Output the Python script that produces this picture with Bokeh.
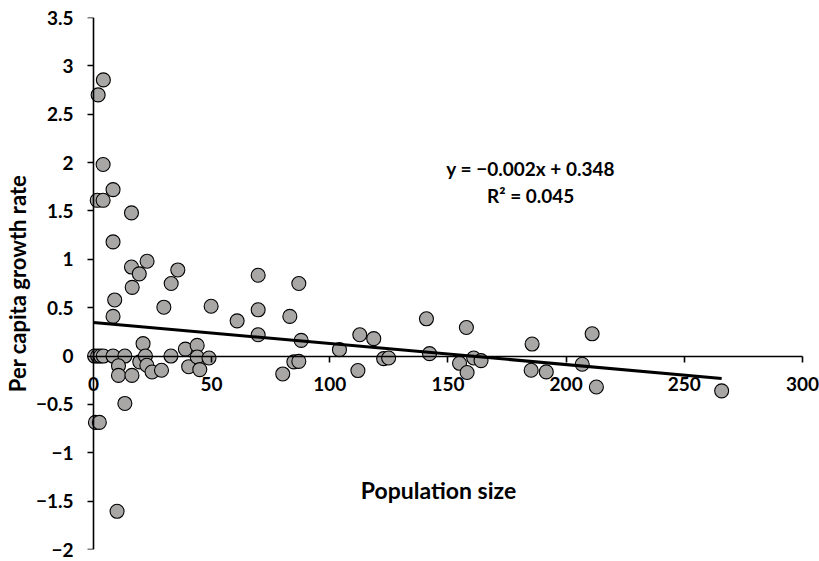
from bokeh.plotting import figure
from bokeh.models import Range1d, FixedTicker, Label, ColumnDataSource, LinearAxis
from bokeh.embed import file_html
from bokeh.resources import INLINE

# ---- data ----
population_size = [
    4.2, 2.0, 4.1, 8.3, 1.6, 4.1, 16.1, 8.3, 16.1, 22.7, 19.4, 35.7, 69.7,
    32.9, 16.4, 9.0, 8.3, 29.8, 49.8, 60.8, 69.7, 69.7, 83.1, 86.9, 87.9,
    0.5, 1.8, 3.0, 4.2, 8.3, 13.3,
    0.85, 2.5, 13.3, 10.0, 10.6, 10.6, 16.3,
    21.0, 19.6, 22.0, 22.6, 24.8, 28.8, 32.8, 38.9, 40.3, 43.9, 43.9, 45.0, 48.9,
    80.1, 84.8, 86.9, 104.1, 112.7, 118.6, 111.9, 122.8, 124.9,
    140.9, 142.2, 157.8, 154.9, 158.1, 160.9, 164.0,
    185.6, 185.2, 191.6, 206.8, 211.0, 212.8, 265.8,
]
growth_rate = [
    2.855, 2.70, 1.98, 1.72, 1.61, 1.61, 1.48, 1.18, 0.92, 0.98, 0.85, 0.89, 0.835,
    0.75, 0.71, 0.58, 0.41, 0.505, 0.515, 0.364, 0.478, 0.22, 0.41, 0.75, 0.162,
    0.0, 0.0, 0.0, 0.0, 0.0, 0.0,
    -0.686, -0.686, -0.49, -1.605, -0.10, -0.20, -0.20,
    0.128, -0.06, 0.0, -0.095, -0.165, -0.147, 0.0, 0.072, -0.11, 0.11, -0.01, -0.14, -0.02,
    -0.185, -0.06, -0.055, 0.066, 0.22, 0.18, -0.15, -0.027, -0.02,
    0.385, 0.025, 0.295, -0.075, -0.17, -0.02, -0.047,
    0.124, -0.147, -0.164, -0.085, 0.23, -0.32, -0.36,
]
trend_slope = -0.00218
trend_intercept = 0.348
equation_text = "y = \u22120.002x + 0.348\nR\u00b2 = 0.045"

x_ticks = [0, 50, 100, 150, 200, 250, 300]
x_tick_labels = ["0", "50", "100", "150", "200", "250", "300"]
y_ticks = [-2, -1.5, -1, -0.5, 0, 0.5, 1, 1.5, 2, 2.5, 3, 3.5]
y_tick_labels = ["\u22122", "\u22121.5", "\u22121", "\u22120.5", "0", "0.5", "1",
                 "1.5", "2", "2.5", "3", "3.5"]

FONT = "Lato"

p = figure(width=819, height=561, output_backend="svg", toolbar_location=None,
           x_range=Range1d(-4.2, 307.2), y_range=Range1d(-2, 3.5),
           min_border_left=83, min_border_right=0, min_border_top=17, min_border_bottom=12)
p.outline_line_color = None
p.xgrid.visible = False
p.ygrid.visible = False
p.background_fill_color = "white"
p.border_fill_color = "white"


def style_line_axis(ax):
    ax.axis_line_color = "black"
    ax.axis_line_width = 1.6
    ax.major_tick_line_color = "black"
    ax.major_tick_line_width = 1.6
    ax.major_tick_in = 0
    ax.major_tick_out = 6
    ax.minor_tick_line_color = None


# x axis crossing at y = 0
xa = p.xaxis[0]
xa.fixed_location = 0
style_line_axis(xa)
xa.bounds = (x_ticks[0], x_ticks[-1])
xa.ticker = FixedTicker(ticks=x_ticks)
xa.major_label_overrides = {t: l for t, l in zip(x_ticks, x_tick_labels)}
xa.major_label_text_font = FONT
xa.major_label_text_font_style = "bold"
xa.major_label_text_font_size = "19px"
xa.major_label_text_color = "black"
xa.major_label_standoff = 15

# y axis: labels + title in the left panel
ya = p.yaxis[0]
ya.axis_line_color = None
ya.major_tick_line_color = None
ya.minor_tick_line_color = None
ya.major_tick_in = 0
ya.major_tick_out = 0
ya.ticker = FixedTicker(ticks=y_ticks)
ya.major_label_overrides = {t: l for t, l in zip(y_ticks, y_tick_labels)}
ya.major_label_text_font = FONT
ya.major_label_text_font_style = "bold"
ya.major_label_text_font_size = "19px"
ya.major_label_text_color = "black"
ya.major_label_standoff = 10
ya.axis_label = "Per capita growth rate"
ya.axis_label_text_font = FONT
ya.axis_label_text_font_style = "bold"
ya.axis_label_text_font_size = "22px"
ya.axis_label_text_color = "black"
ya.axis_label_standoff = 2

# y axis line + ticks at x = 0
ya2 = LinearAxis(fixed_location=0, ticker=FixedTicker(ticks=y_ticks),
                 bounds=(y_ticks[0], y_ticks[-1]))
style_line_axis(ya2)
ya2.major_label_text_color = None
p.add_layout(ya2, "left")

src = ColumnDataSource(dict(x=population_size, y=growth_rate))
p.scatter("x", "y", source=src, size=14, fill_color="#a9a6a6",
          line_color="black", line_width=1.1)

x_end = max(population_size)
trend = ColumnDataSource(dict(x=[0, x_end],
                              y=[trend_intercept, trend_intercept + trend_slope * x_end]))
p.line("x", "y", source=trend, line_color="black", line_width=3)

p.add_layout(Label(x=185, y=1.80, text=equation_text, text_font=FONT,
                   text_font_style="bold", text_font_size="19px",
                   text_align="center", text_baseline="middle", text_color="black"))

p.add_layout(Label(x=146, y=-1.38, text="Population size", text_font=FONT,
                   text_font_style="bold", text_font_size="23px",
                   text_align="center", text_baseline="middle", text_color="black"))

open("out.html", "w").write(file_html(p, INLINE))
